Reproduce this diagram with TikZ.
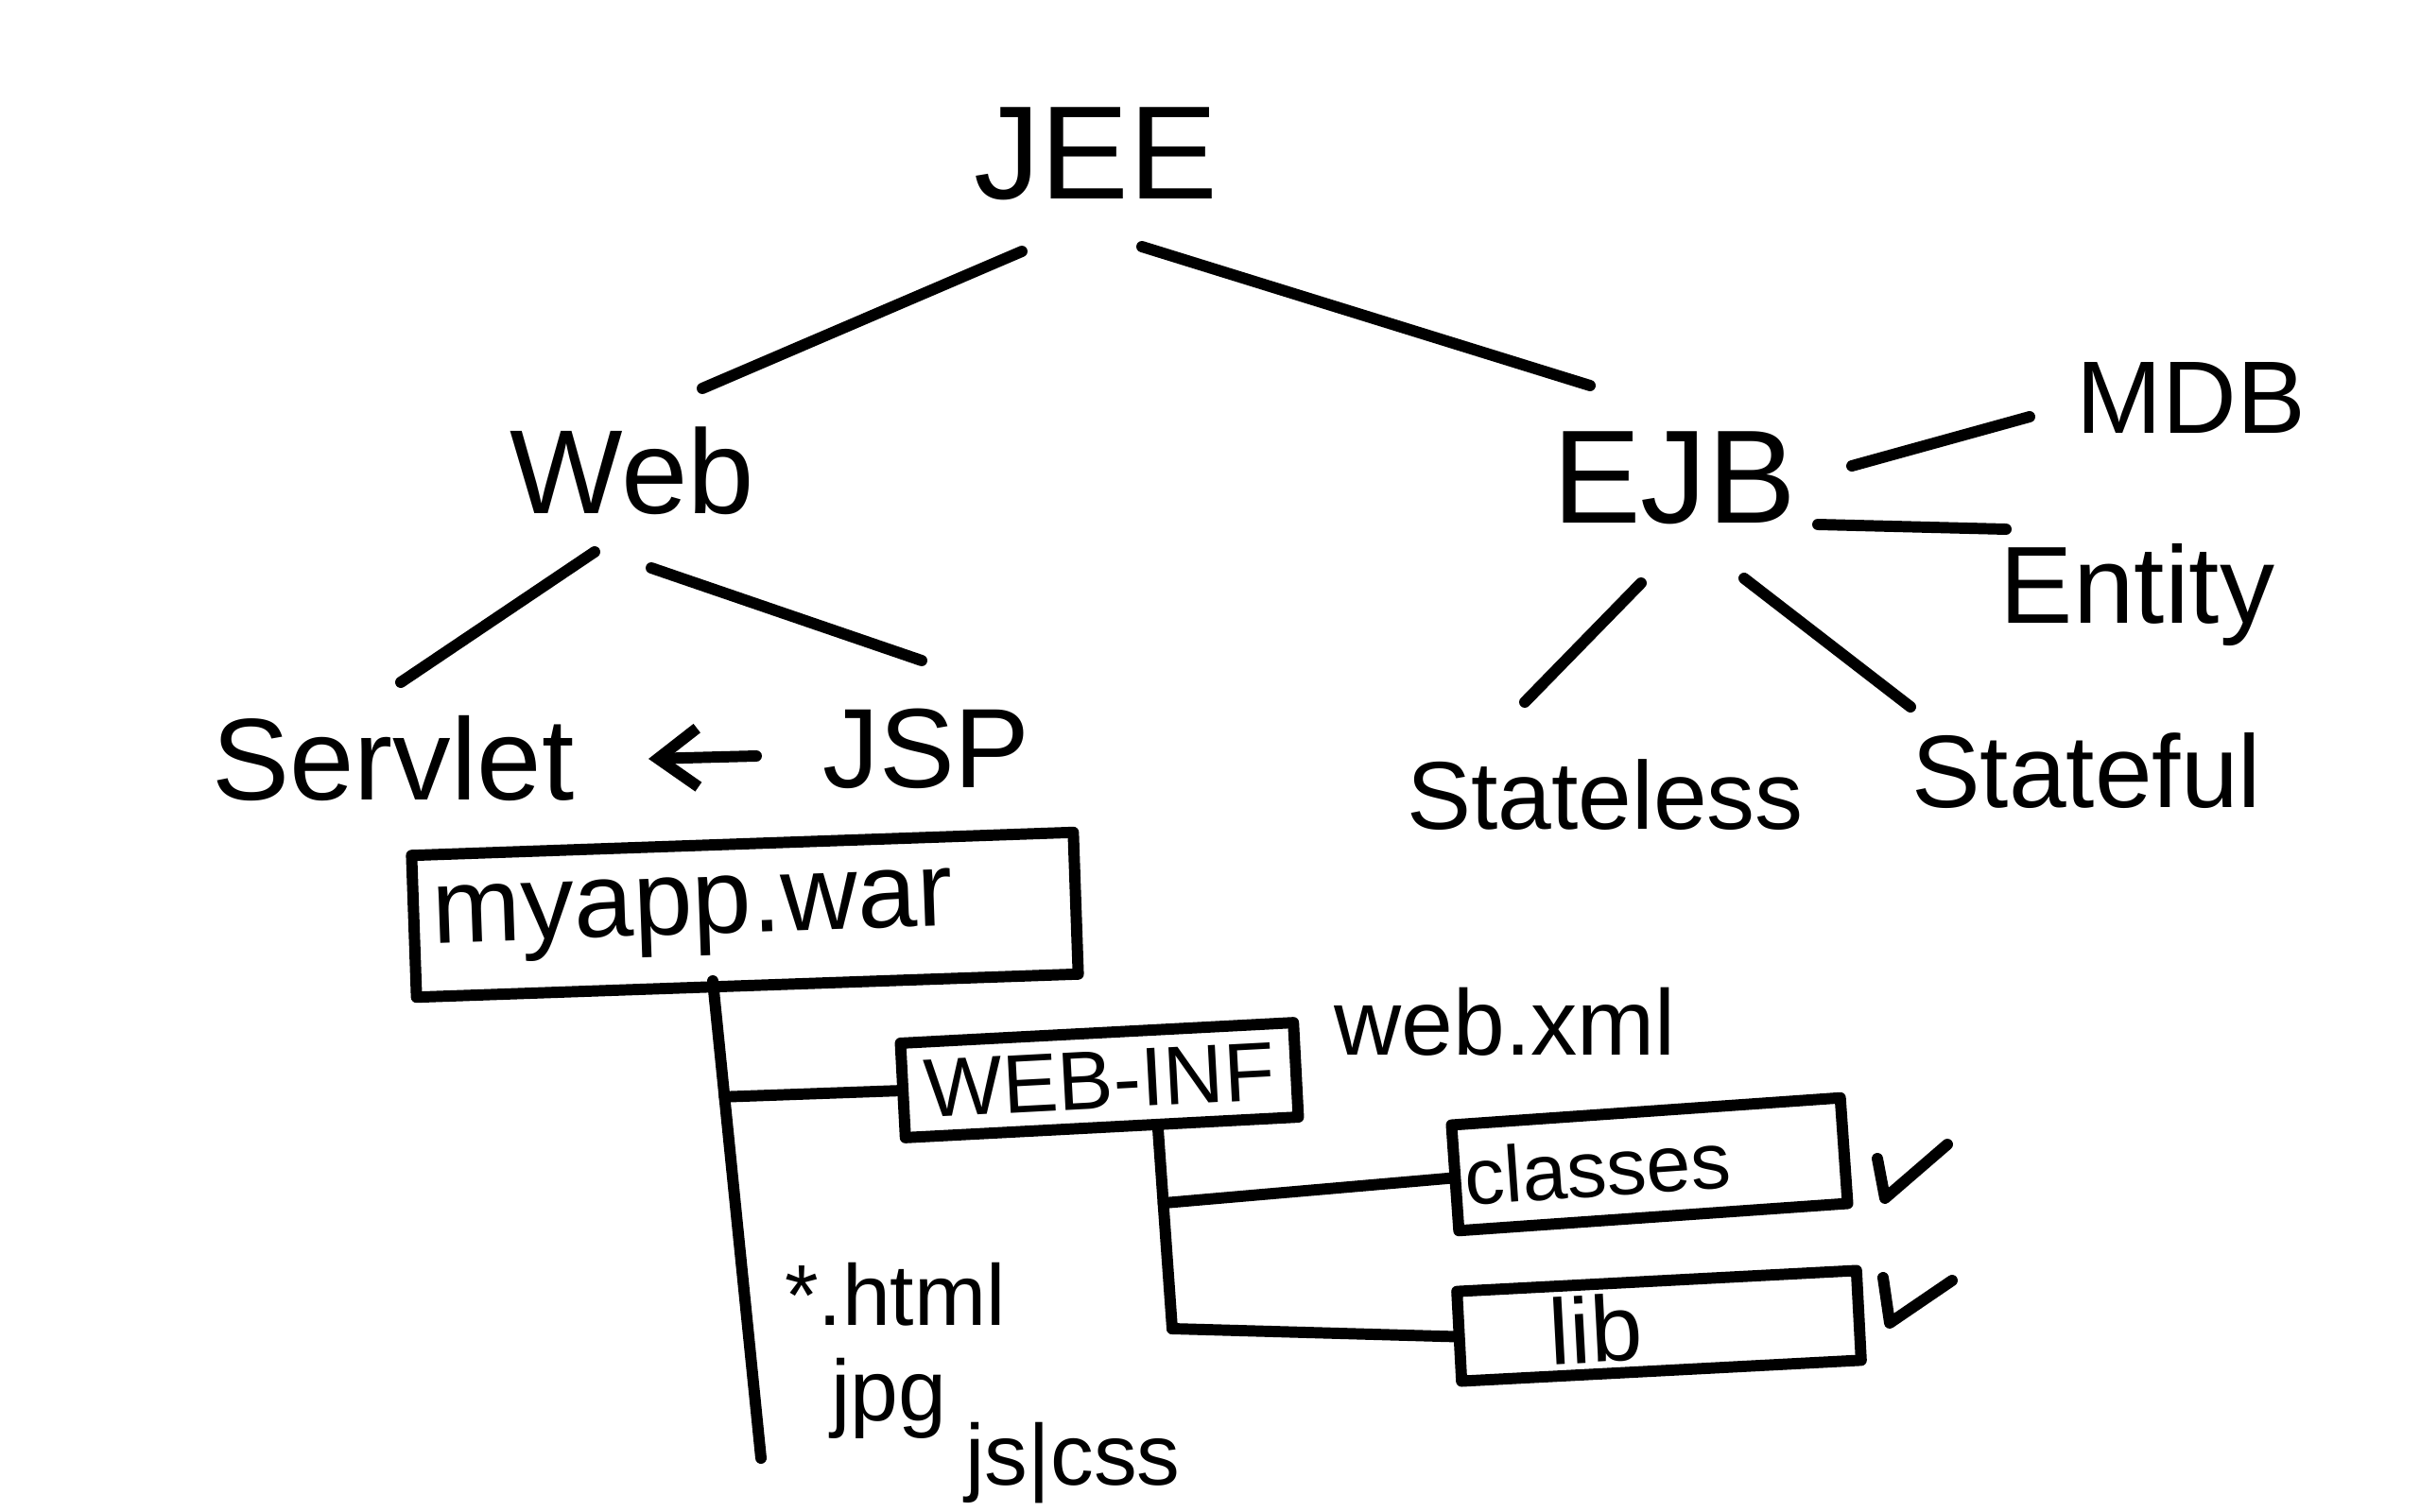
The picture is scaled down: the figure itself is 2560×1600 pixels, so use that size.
\documentclass[tikz,border=0pt]{standalone}
\usepackage{fontspec}
\setmainfont{Liberation Sans}
\usetikzlibrary{calc,arrows.meta}
\begin{document}
\begin{tikzpicture}[x=0.01cm,y=-0.01cm,
  pen/.style={line width=3.4pt, line cap=round, line join=round},
  lbl/.style={inner sep=1pt, font=\fontsize{#1}{#1}\selectfont},
  box/.style={draw, pen, rotate=#1, align=left, inner ysep=0pt},
  tip/.style={-{Straight Barb[length=0.42cm,width=0.62cm,line width=3.4pt]}}]
\useasboundingbox (0,0) rectangle (2560,1600);

% labels
\node[lbl=40] (jee) at (1159,163) {JEE};
\node[lbl=36] (web) at (669,498) {Web};
\node[lbl=35] (servlet) at (416,803) {Servlet};
\node[lbl=34] (jsp) at (980,792) {JSP};
\node[lbl=40] (ejb) at (1771,506) {EJB};
\node[lbl=31] (mdb) at (2318,421) {MDB};
\node[lbl=33] (entity) at (2261,629) {Entity};
\node[lbl=29] (stateless) at (1698,841) {Stateless};
\node[lbl=31] (stateful) at (2207,816) {Stateful};

% boxes
\node[box=2, font=\fontsize{32}{32}\selectfont, inner xsep=0.2cm,
      text width=6.6cm, minimum height=1.5cm] (myapp) at (788,968) {myapp.war};
\node[box=3, font=\fontsize{25}{25}\selectfont, align=center,
      minimum width=4.16cm, minimum height=1.0cm] (webinf) at (1163,1143) {WEB-INF};
\node[box=4, font=\fontsize{24}{24}\selectfont, inner xsep=0.1cm,
      text width=3.92cm, minimum height=1.12cm] (classes) at (1745,1232) {classes};
\node[box=3, font=\fontsize{28}{28}\selectfont, inner xsep=0.95cm,
      text width=2.33cm, minimum height=0.95cm] (lib) at (1755,1403) {lib};

\node[lbl=28] (webxml) at (1592,1081) {web.xml};
\node[lbl=26] (html) at (947,1370) {*.html};
\node[lbl=26] (jpg) at (940,1480) {jpg};
\node[lbl=26] (jscss) at (1135,1548) {js|css};

% tree connectors
\draw[pen] ($(jee)+(-78,103)$) -- ($(web)+(74,-87)$);
\draw[pen] ($(jee)+(49,98)$) -- ($(ejb)+(-89,-98)$);
\draw[pen] ($(web)+(-40,86)$) -- ($(servlet)+(8,-81)$);
\draw[pen] ($(web)+(20,103)$) -- ($(jsp)+(-5,-93)$);
\draw[pen,tip] ($(jsp)+(-180,8)$) -- ($(servlet)+(270,0)$);
\draw[pen] ($(ejb)+(188,-13)$) -- ($(mdb)+(-171,20)$);
\draw[pen] ($(ejb)+(152,49)$) -- ($(entity)+(-139,-69)$);
\draw[pen] ($(ejb)+(-35,111)$) -- ($(stateless)+(-85,-98)$);
\draw[pen] ($(ejb)+(74,106)$) -- ($(stateful)+(-186,-68)$);

% folder tree
\coordinate (trunktop) at ($(myapp)+(-34,70)$);
\coordinate (trunkend) at (805,1543);
\draw[pen] (trunktop) -- (trunkend);
\draw[pen] ($(trunktop)!0.243!(trunkend)$) -- (webinf.west);
\coordinate (subtop) at ($(webinf)+(62,52)$);
\coordinate (subend) at (1240,1406);
\draw[pen] (subtop) -- (subend);
\draw[pen] ($(subtop)!0.37!(subend)$) -- (classes.west);
\draw[pen] (subend) -- (lib.west);

% check marks
\draw[pen] (1986,1226) -- (1994,1268) -- (2060,1211);
\draw[pen] (1992,1352) -- (1999,1400) -- (2065,1355);
\end{tikzpicture}
\end{document}
